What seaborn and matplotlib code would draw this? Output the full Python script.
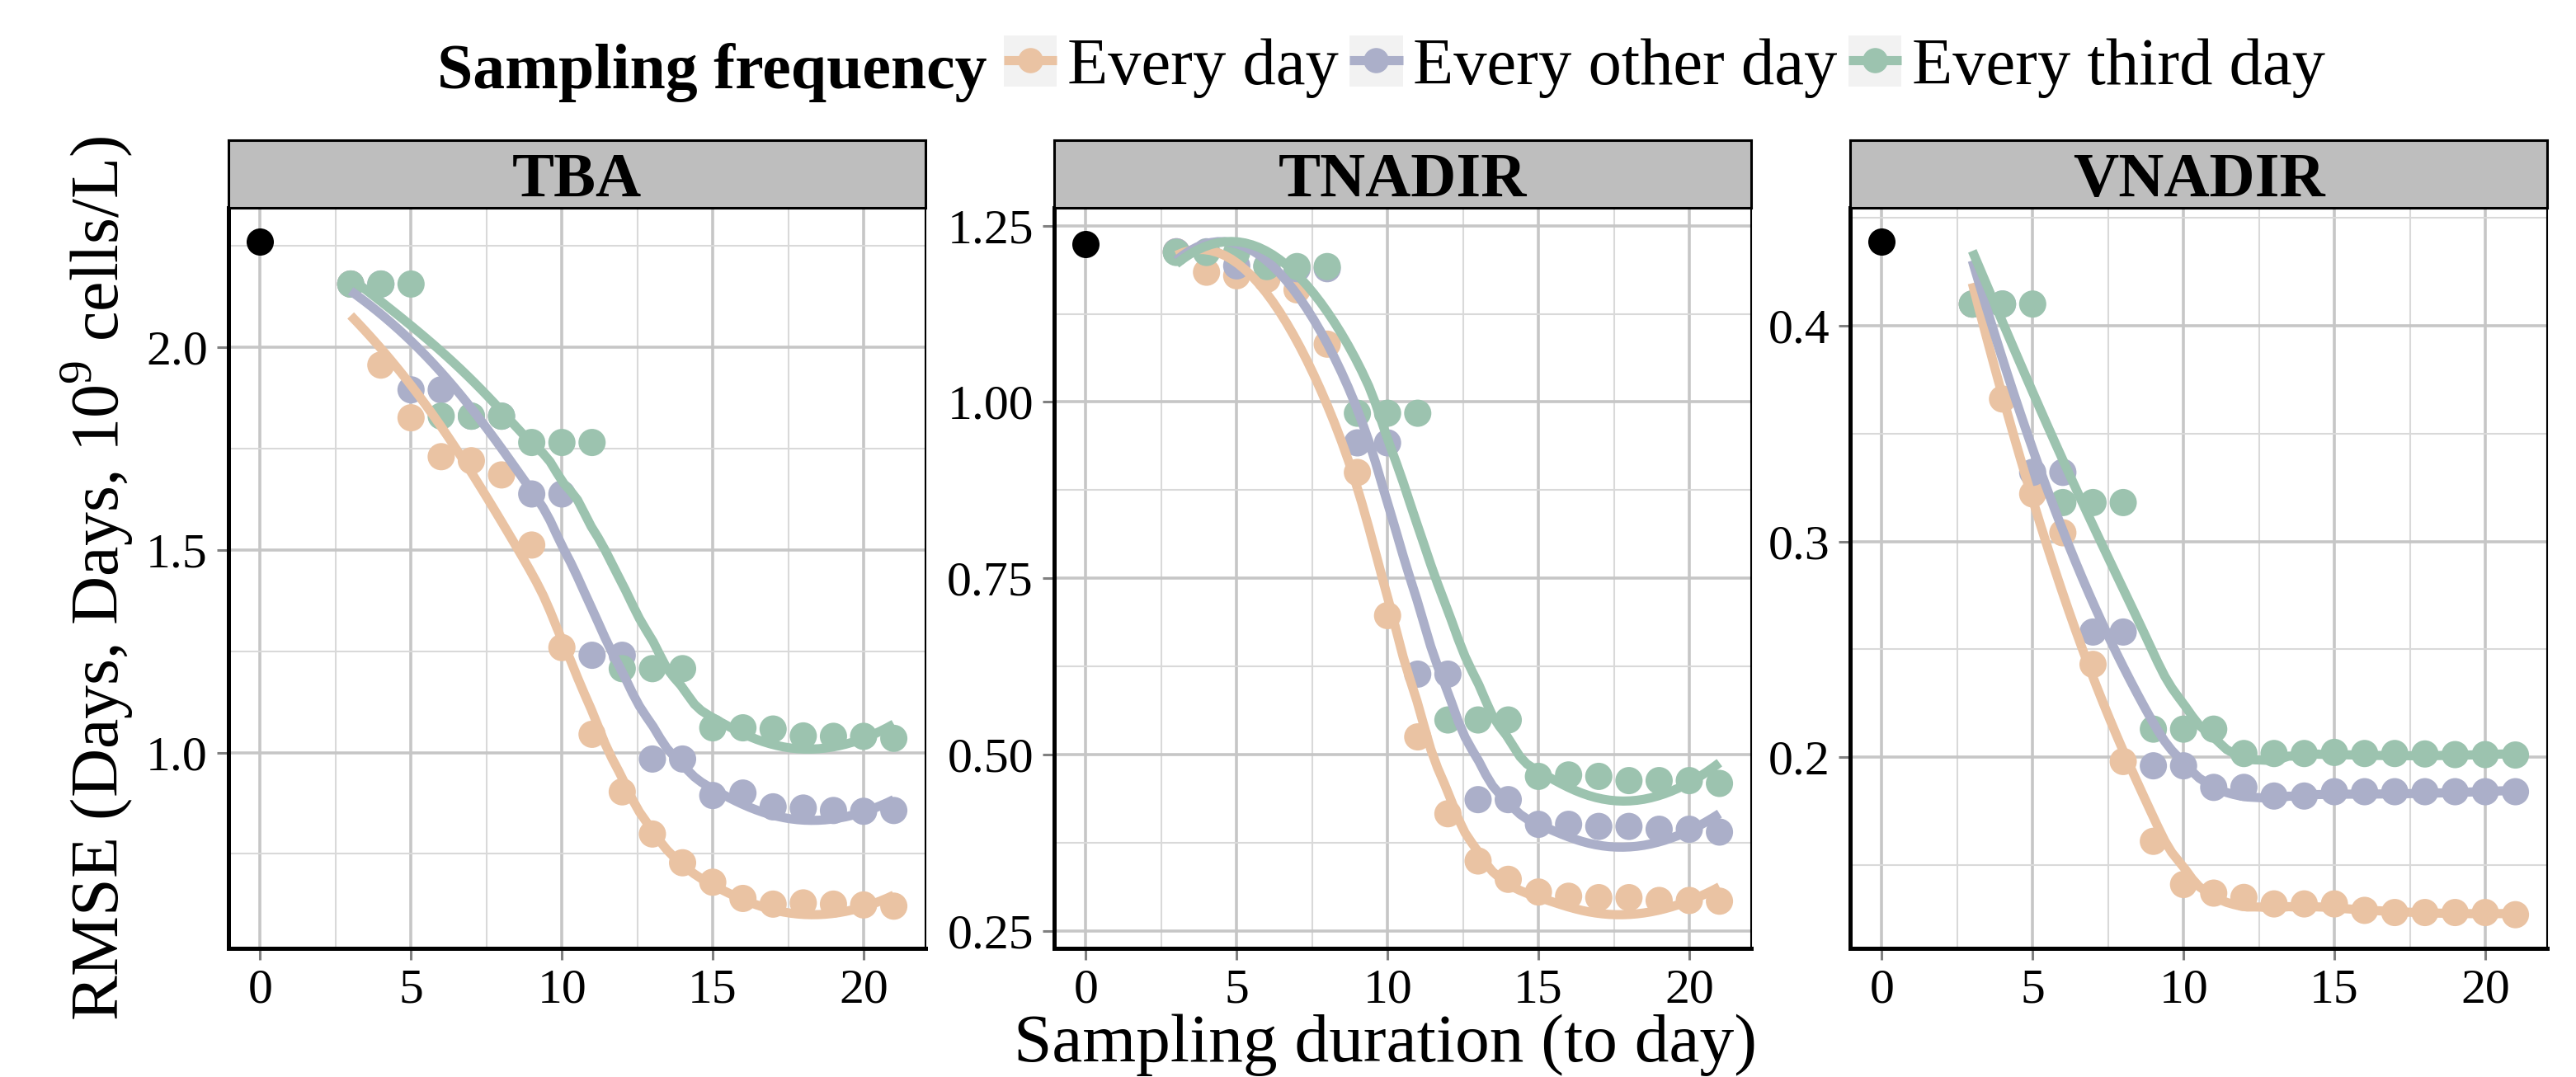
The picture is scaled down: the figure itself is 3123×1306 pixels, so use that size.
# RMSE vs sampling duration, three panels (TBA / TNADIR / VNADIR), loess smooths

import numpy as np
import pandas as pd
import seaborn as sns
import matplotlib.pyplot as plt
from matplotlib.lines import Line2D
from matplotlib.patches import Rectangle
from matplotlib.ticker import MultipleLocator, AutoMinorLocator, FormatStrFormatter

# ---- data ----
days = list(range(3, 22))
freqs = ["Every day", "Every other day", "Every third day"]
colors = ["#EAC3A3", "#ABAFC9", "#9CC3AF"]
panels = ["TBA", "TNADIR", "VNADIR"]
baseline_rmse = [2.261, 1.224, 0.439]

tba_every_day = [2.156, 1.956, 1.826, 1.730, 1.720, 1.685, 1.512, 1.259, 1.045, 0.903,
                 0.799, 0.728, 0.680, 0.640, 0.626, 0.629, 0.626, 0.624, 0.621]
tba_every_other = [2.156, 2.156, 1.895, 1.895, 1.830, 1.830, 1.638, 1.638, 1.240, 1.240,
                   0.984, 0.984, 0.894, 0.900, 0.866, 0.863, 0.857, 0.855, 0.857]
tba_every_third = [2.156, 2.156, 2.156, 1.830, 1.830, 1.830, 1.765, 1.765, 1.765, 1.207,
                   1.207, 1.207, 1.061, 1.061, 1.058, 1.041, 1.040, 1.040, 1.035]

tnadir_every_day = [1.213, 1.184, 1.179, 1.174, 1.159, 1.082, 0.900, 0.697, 0.525, 0.416,
                    0.349, 0.323, 0.305, 0.299, 0.297, 0.297, 0.293, 0.293, 0.292]
tnadir_every_other = [1.213, 1.213, 1.193, 1.193, 1.189, 1.189, 0.942, 0.942, 0.614, 0.614,
                      0.436, 0.436, 0.401, 0.401, 0.398, 0.398, 0.394, 0.394, 0.390]
tnadir_every_third = [1.212, 1.212, 1.212, 1.192, 1.192, 1.192, 0.984, 0.984, 0.984, 0.549,
                      0.549, 0.549, 0.469, 0.471, 0.469, 0.463, 0.463, 0.463, 0.459]

vnadir_every_day = [0.410, 0.366, 0.322, 0.304, 0.243, 0.198, 0.161, 0.141, 0.137, 0.135,
                    0.132, 0.132, 0.132, 0.129, 0.128, 0.128, 0.128, 0.128, 0.127]
vnadir_every_other = [0.410, 0.410, 0.332, 0.332, 0.258, 0.258, 0.196, 0.196, 0.186, 0.186,
                      0.182, 0.182, 0.184, 0.184, 0.184, 0.184, 0.184, 0.184, 0.184]
vnadir_every_third = [0.410, 0.410, 0.410, 0.318, 0.318, 0.318, 0.213, 0.213, 0.213, 0.2017,
                      0.2017, 0.2017, 0.2022, 0.2017, 0.2017, 0.2015, 0.2012, 0.2012, 0.201]

series = {
    "TBA": [tba_every_day, tba_every_other, tba_every_third],
    "TNADIR": [tnadir_every_day, tnadir_every_other, tnadir_every_third],
    "VNADIR": [vnadir_every_day, vnadir_every_other, vnadir_every_third],
}
ytick_step = [0.5, 0.25, 0.1]
ytick_fmt = ["%.1f", "%.2f", "%.1f"]


def loess(x, y, grid, span=0.75):
    # local quadratic fit with tricube weights (like R's loess defaults)
    x = np.asarray(x, float)
    y = np.asarray(y, float)
    q = int(np.floor(len(x) * span))
    fit = []
    for x0 in grid:
        d = np.abs(x - x0)
        h = np.sort(d)[q - 1]
        w = np.clip(1 - (d / h) ** 3, 0, None) ** 3
        X = np.column_stack([np.ones_like(x), x - x0, (x - x0) ** 2])
        WX = X * w[:, None]
        beta = np.linalg.solve(X.T @ WX, WX.T @ y)
        fit.append(beta[0])
    return np.array(fit)


rows = []
smooth_rows = []
grid = np.linspace(min(days), max(days), 80)
for p in panels:
    for f, vals in zip(freqs, series[p]):
        for d, v in zip(days, vals):
            rows.append((p, f, d, v))
        for g, v in zip(grid, loess(days, vals, grid)):
            smooth_rows.append((p, f, g, v))
df = pd.DataFrame(rows, columns=["panel", "freq", "day", "rmse"])
sm = pd.DataFrame(smooth_rows, columns=["panel", "freq", "day", "fit"])

# ---- style ----
sns.set_style("whitegrid")
plt.rcParams["font.family"] = ["Liberation Serif", "DejaVu Serif"]
plt.rcParams["mathtext.fontset"] = "custom"
plt.rcParams["mathtext.rm"] = "Liberation Serif"
plt.rcParams["lines.solid_capstyle"] = "butt"
plt.rcParams["text.color"] = "black"
plt.rcParams["xtick.labelcolor"] = "black"
plt.rcParams["ytick.labelcolor"] = "black"

W, H = 3123, 1306
fig = plt.figure(figsize=(W / 100, H / 100), dpi=100)
fig.patch.set_facecolor("white")

lefts = [277, 1278, 2243]
pw = 845
strip_top, panel_top, panel_bot = 170, 252, 1150

for i, p in enumerate(panels):
    l = lefts[i]
    ax = fig.add_axes([l / W, 1 - panel_bot / H, pw / W, (panel_bot - panel_top) / H])
    sub = df[df.panel == p]
    ssub = sm[sm.panel == p]

    sns.scatterplot(data=sub, x="day", y="rmse", hue="freq", hue_order=freqs,
                    palette=colors, s=565, linewidth=0, legend=False, ax=ax, zorder=3)
    sns.lineplot(data=ssub, x="day", y="fit", hue="freq", hue_order=freqs,
                 palette=colors, linewidth=8, legend=False, ax=ax, zorder=4)
    sns.scatterplot(x=[0], y=[baseline_rmse[i]], color="black", s=565,
                    linewidth=0, ax=ax, zorder=5)

    lo = min(sub.rmse.min(), ssub.fit.min(), baseline_rmse[i])
    hi = max(sub.rmse.max(), ssub.fit.max(), baseline_rmse[i])
    pad = 0.05 * (hi - lo)
    ax.set_ylim(lo - pad, hi + pad)
    ax.set_xlim(-1.05, 22.05)

    ax.xaxis.set_major_locator(MultipleLocator(5))
    ax.xaxis.set_minor_locator(AutoMinorLocator(2))
    ax.yaxis.set_major_locator(MultipleLocator(ytick_step[i]))
    ax.yaxis.set_minor_locator(AutoMinorLocator(2))
    ax.yaxis.set_major_formatter(FormatStrFormatter(ytick_fmt[i]))

    ax.grid(which="major", color="#C6C6C6", lw=2.6)
    ax.grid(which="minor", color="#D9D9D9", lw=1.5)
    ax.set_axisbelow(True)
    ax.tick_params(which="major", length=10, width=2.2, color="#808080",
                   labelsize=43, pad=8, direction="out", left=True, bottom=True)
    ax.tick_params(which="minor", length=0)
    ax.set_xlabel("")
    ax.set_ylabel("")
    for side in ["left", "bottom"]:
        ax.spines[side].set_color("black")
        ax.spines[side].set_linewidth(3.6)
    for side in ["top", "right"]:
        ax.spines[side].set_color("black")
        ax.spines[side].set_linewidth(1.5)

    # facet strip
    sax = fig.add_axes([l / W, 1 - panel_top / H, pw / W, (panel_top - strip_top) / H])
    sax.set_facecolor("#BEBEBE")
    sax.set_xticks([])
    sax.set_yticks([])
    sax.grid(False)
    for s in sax.spines.values():
        s.set_color("black")
        s.set_linewidth(2.2)
    sax.text(0.5, 0.17, p, ha="center", va="baseline", fontsize=55,
             fontweight="bold", transform=sax.transAxes)

# axis titles
fig.text(117 / W, 1 - 701 / H, r"RMSE (Days, Days, 10$^9$ cells/L)", rotation=90,
         ha="center", va="center", fontsize=59)
fig.text(1680 / W, 1 - 1287 / H, "Sampling duration (to day)", ha="center",
         va="baseline", fontsize=60)

# legend on top
fig.text(1197 / W, 1 - 107 / H, "Sampling frequency", ha="right", va="baseline",
         fontsize=56, fontweight="bold")
handles = [(Rectangle((0, 0), 1, 1, facecolor="#F2F2F2", edgecolor="none"),
            Line2D([], [], color=c, lw=8, marker="o", ms=22, mew=0))
           for c in colors]
fig.legend(handles, freqs, loc="center left", bbox_to_anchor=(1217 / W, 1 - 81 / H),
           ncol=3, frameon=False, fontsize=58, handlelength=0.8, handleheight=0.8,
           handletextpad=0.16, columnspacing=0.16, borderpad=0, borderaxespad=0,
           numpoints=1)

fig.savefig("out.png", dpi=100)
